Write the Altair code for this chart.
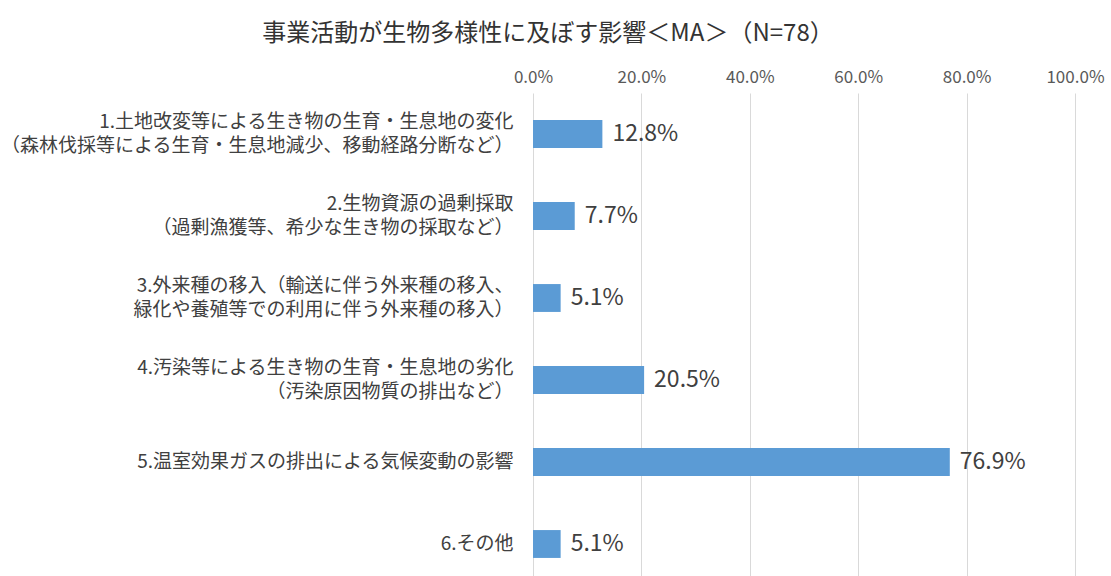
import altair as alt
import pandas as pd

categories = [
    "1.土地改変等による生き物の生育・生息地の変化\n（森林伐採等による生育・生息地減少、移動経路分断など）",
    "2.生物資源の過剰採取\n（過剰漁獲等、希少な生き物の採取など）",
    "3.外来種の移入（輸送に伴う外来種の移入、\n緑化や養殖等での利用に伴う外来種の移入）",
    "4.汚染等による生き物の生育・生息地の劣化\n（汚染原因物質の排出など）",
    "5.温室効果ガスの排出による気候変動の影響",
    "6.その他",
]
values = [0.128, 0.077, 0.051, 0.205, 0.769, 0.051]
tick_values = [0.0, 0.2, 0.4, 0.6, 0.8, 1.0]

df = pd.DataFrame({"cat": categories, "val": values})
FONT = "Noto Sans CJK JP"

y_enc = alt.Y(
    "cat:N",
    sort=categories,
    scale=alt.Scale(paddingInner=0.66, paddingOuter=0.33),
    axis=alt.Axis(
        title=None,
        ticks=False,
        domain=False,
        grid=False,
        labelPadding=20,
        labelFontSize=19,
        labelColor="#404040",
        labelFont=FONT,
        labelLimit=600,
        labelLineHeight=24,
        labelExpr="split(datum.label, '\\n')",
        labelOffset=alt.condition(
            "indexof(datum.value, '\\n') >= 0", alt.value(-12), alt.value(0)
        ),
    ),
)

bars = alt.Chart(df).mark_bar(color="#5B9BD5").encode(
    x=alt.X(
        "val:Q",
        scale=alt.Scale(domain=[0, 1]),
        axis=alt.Axis(
            orient="top",
            title=None,
            values=tick_values,
            format=".1%",
            ticks=False,
            domain=False,
            grid=True,
            gridColor="#d9d9d9",
            gridWidth=1,
            labelFlush=False,
            labelPadding=7,
            labelFontSize=17,
            labelColor="#595959",
            labelFont=FONT,
        ),
    ),
    y=y_enc,
)

labels = alt.Chart(df).mark_text(
    align="left", baseline="middle", dx=10, fontSize=23, color="#404040", font=FONT
).encode(
    x="val:Q",
    y=alt.Y("cat:N", sort=categories),
    text=alt.Text("val:Q", format=".1%"),
)

chart = (
    alt.layer(bars, labels)
    .properties(
        width=542,
        height=492,
        autosize=alt.AutoSizeParams(type="none"),
        padding={"left": 533, "top": 93, "right": 36, "bottom": 0},
        title=alt.TitleParams(
            "事業活動が生物多様性に及ぼす影響＜MA＞（N=78）",
            fontSize=24,
            font=FONT,
            fontWeight="normal",
            color="#333333",
            anchor="middle",
            dx=-256,
            offset=22,
        ),
    )
    .configure_view(stroke=None)
)

chart.save("out.html", embed_options={"renderer": "svg", "actions": False})
